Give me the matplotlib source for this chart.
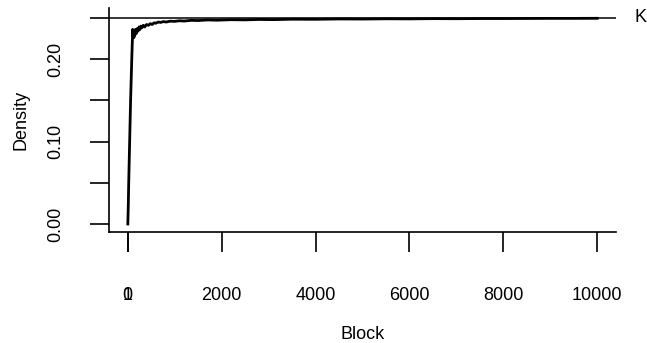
import matplotlib
matplotlib.use("Agg")
import matplotlib.pyplot as plt
import matplotlib.transforms as mtransforms

plt.rcParams['font.family'] = ['Liberation Sans', 'DejaVu Sans']

# Data (block, density)
blocks = [1, 10, 20, 30, 40, 50, 60, 70, 85, 95, 105, 112, 120, 130, 140, 150,
          165, 180, 200, 220, 240, 260, 280, 300, 330, 360, 400, 440, 480, 520,
          560, 600, 650, 700, 760, 820, 900, 1000, 1100, 1200, 1350, 1500, 1700,
          1900, 2200, 2500, 2800, 3100, 3500, 4000, 4500, 5000, 5500, 6000,
          6500, 7000, 7500, 8000, 8500, 9000, 9500, 10000]
density = [0.000, 0.020, 0.050, 0.075, 0.100, 0.125, 0.150, 0.170, 0.200, 0.218,
           0.236, 0.228, 0.233, 0.226, 0.235, 0.229, 0.236, 0.231, 0.237, 0.234,
           0.239, 0.236, 0.240, 0.238, 0.241, 0.239, 0.242, 0.241, 0.243, 0.242,
           0.244, 0.2435, 0.245, 0.2445, 0.2455, 0.245, 0.246, 0.2458, 0.2465,
           0.2462, 0.247, 0.2468, 0.2475, 0.2472, 0.2478, 0.2476, 0.2481, 0.2479,
           0.2484, 0.2483, 0.2487, 0.2486, 0.2489, 0.2488, 0.2491, 0.2490, 0.2492,
           0.2492, 0.2493, 0.2494, 0.2494, 0.2495]
K = 0.25

yticks = [0.00, 0.05, 0.10, 0.15, 0.20, 0.25]
ytick_labels = ["0.00", "", "0.10", "", "0.20", ""]
xticks = [0, 1, 2000, 4000, 6000, 8000, 10000]
xtick_labels = ["0", "1", "2000", "4000", "6000", "8000", "10000"]

W, H = 647, 343
fig = plt.figure(figsize=(W / 100, H / 100), dpi=100)
left, right, top, bottom = 109, 616, 8, 232
ax = fig.add_axes([left / W, (H - bottom) / H, (right - left) / W, (bottom - top) / H])

ax.plot(blocks, density, color='black', lw=2.0, solid_joinstyle='round')
ax.axhline(K, color='black', lw=1.1)

ax.set_xlim(-400, 10400)
ax.set_ylim(-0.0097, 0.262)

for s in ['top', 'right']:
    ax.spines[s].set_visible(False)
for s in ['left', 'bottom']:
    ax.spines[s].set_linewidth(1.2)

fs = 13
ax.set_yticks(yticks)
ax.set_yticklabels(ytick_labels, rotation=90, va='center', fontsize=fs)
ax.set_xticks(xticks)
ax.set_xticklabels(xtick_labels, fontsize=fs)
ax.tick_params(axis='y', direction='out', length=14, width=1.2, pad=18)
ax.tick_params(axis='x', direction='out', length=14.5, width=1.2, pad=25)

ax.set_xlabel("Block", fontsize=fs, labelpad=16)
ax.set_ylabel("Density", fontsize=fs, labelpad=13)

trans = mtransforms.blended_transform_factory(ax.transAxes, ax.transData)
ax.text((641 - left) / (right - left), K, "K", transform=trans, ha='center',
        va='center', fontsize=fs, clip_on=False)

fig.savefig("out.png", dpi=100)
